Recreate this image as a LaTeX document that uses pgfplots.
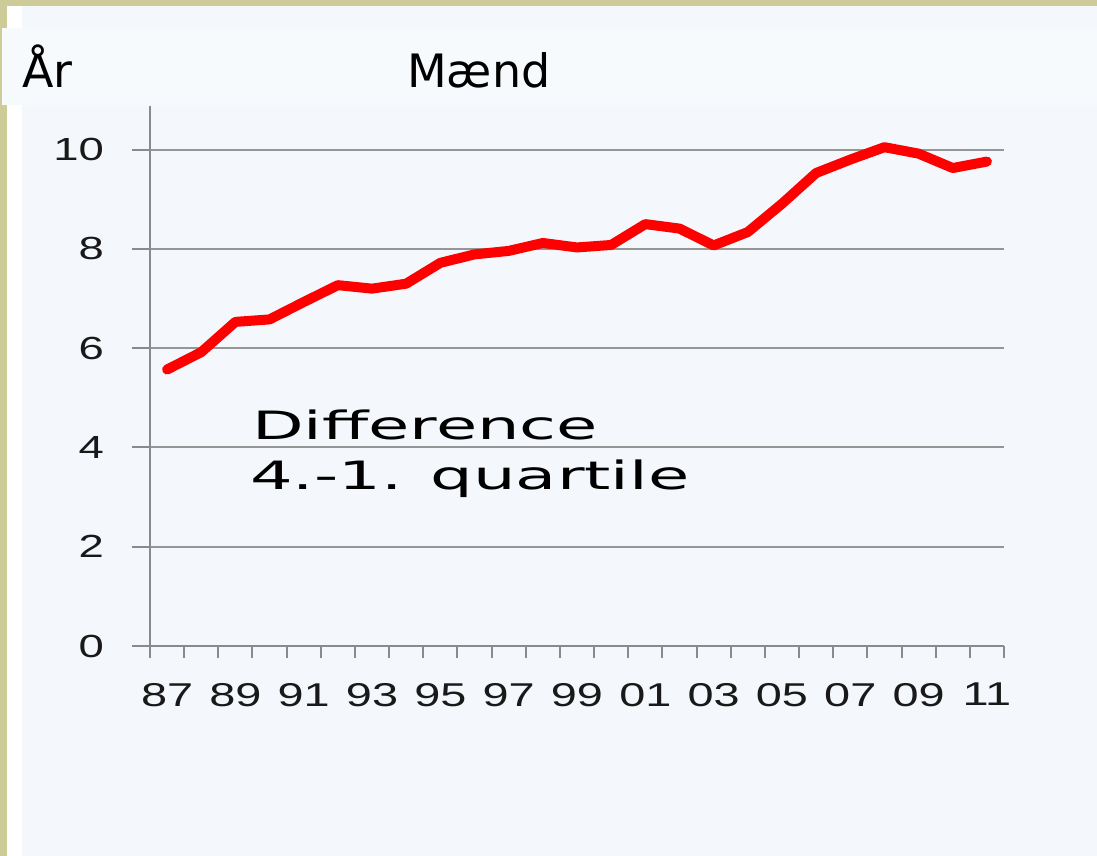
\documentclass[border=0pt]{standalone}
\usepackage{fontspec}
\usepackage{pgfplots}
\usepackage{pgfplotstable}
\pgfplotsset{compat=1.18}
\setmainfont{DejaVu Sans}
\newfontfamily\titlefont{DejaVu Sans}
\newfontfamily\annfont[FakeStretch=1.72]{DejaVu Sans}
\newfontfamily\axfont[FakeStretch=1.42]{Liberation Sans}
\definecolor{khaki}{RGB}{205,203,152}
\definecolor{panel}{RGB}{244,248,252}
\definecolor{band}{RGB}{247,250,253}
\definecolor{gridgray}{RGB}{150,150,150}
\definecolor{axgray}{RGB}{138,138,138}
\pgfplotstableread{
x y
0 5.57
1 5.92
2 6.53
3 6.58
4 6.93
5 7.27
6 7.20
7 7.30
8 7.72
9 7.89
10 7.96
11 8.12
12 8.03
13 8.08
14 8.50
15 8.41
16 8.07
17 8.34
18 8.91
19 9.53
20 9.80
21 10.05
22 9.92
23 9.63
24 9.76
}\datatable
\begin{document}
\begin{tikzpicture}
\fill[khaki] (0pt,0pt) rectangle (1097pt,856pt);
\fill[white] (7pt,0pt) rectangle (1097pt,850pt);
\fill[panel] (22pt,0pt) rectangle (1097pt,850pt);
\fill[band] (2pt,751pt) rectangle (1097pt,828pt);
\begin{axis}[
  at={(150pt,210pt)}, anchor=south west,
  scale only axis, width=854pt, height=540pt,
  xmin=-0.5, xmax=24.5, ymin=0, ymax=10.88,
  axis x line=bottom, axis y line=left,
  axis line style={-, draw=axgray, line width=2.2pt},
  tick align=outside,
  major tick length=18pt, minor tick length=12pt,
  ytick={0,2,4,6,8,10},
  yticklabels={0,2,4,6,8,10},
  xtick={0,2,...,24},
  xticklabels={87,89,91,93,95,97,99,01,03,05,07,09,11},
  minor xtick={-0.5,0.5,...,24.5},
  major x tick style={draw=none},
  minor x tick style={draw=axgray, line width=2pt},
  major y tick style={draw=axgray, line width=2pt},
  ymajorgrids,
  grid style={draw=gridgray, line width=2pt},
  yticklabel style={font=\axfont\fontsize{32}{38}\selectfont, anchor=east, inner sep=0pt, xshift=-28pt, text=black!90},
  xticklabel style={font=\axfont\fontsize{33}{40}\selectfont, anchor=north, inner sep=0pt, yshift=-19pt, text=black!90},
  clip=false,
]
\addplot[draw={rgb,255:red,255;green,0;blue,0}, line width=10pt, line join=round, line cap=round] table[x=x,y=y]{\datatable};
\end{axis}
\node[anchor=base west, inner sep=0pt, font=\titlefont\fontsize{46}{55}\selectfont] at (22pt,768pt) {År};
\node[anchor=base west, inner sep=0pt, font=\titlefont\fontsize{46}{55}\selectfont] at (407pt,768pt) {Mænd};
\node[anchor=base west, inner sep=0pt, font=\annfont\fontsize{39}{47}\selectfont] at (252pt,416pt) {Difference};
\node[anchor=base west, inner sep=0pt, font=\annfont\fontsize{39}{47}\selectfont] at (250pt,366pt) {4.-1. quartile};
\end{tikzpicture}
\end{document}
